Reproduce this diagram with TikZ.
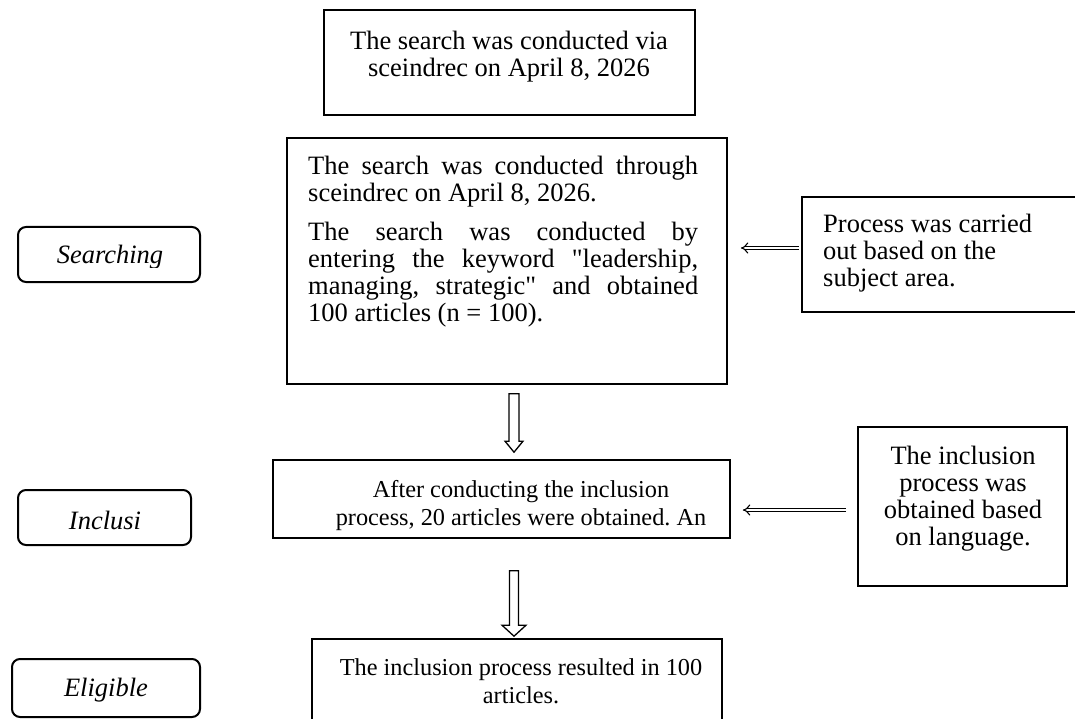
\documentclass[tikz,border=0pt]{standalone}
\usepackage{fontspec}
\setmainfont{Liberation Serif}
\usetikzlibrary{arrows.meta,calc}
\frenchspacing
\newcommand\hollowdown[5]{%
  \draw[hollow] let \p1=(#1), \p2=(#2) in
    (\x1-#3pt,\y1) -- (\x1+#3pt,\y1) -- (\x1+#3pt,\y2+#5pt) -- (\x1+#4pt,\y2+#5pt)
    -- (\x1,\y2) -- (\x1-#4pt,\y2+#5pt) -- (\x1-#3pt,\y2+#5pt) -- cycle;}
\newcommand\sq{\XeTeXglyph\XeTeXcharglyph"22\relax}
\begin{document}
\begin{tikzpicture}[x=1pt,y=-1pt,
  box/.style={draw, line width=1.6pt, inner sep=0, rectangle},
  lbl/.style={draw, line width=2pt, rounded corners=8pt, inner sep=0},
  txt/.style={inner sep=0, font=\fontsize{26.5}{27}\selectfont},
  stxt/.style={inner sep=0, font=\fontsize{24.3}{28.5}\selectfont},
  ltxt/.style={inner sep=0, font=\fontsize{26.5}{27}\selectfont\itshape},
  dbl/.style={double, double distance=2.6pt, line width=1.1pt, -{Implies[length=5pt]}},
  hollow/.style={draw, line width=1.3pt, line join=miter, fill=white}
]
\useasboundingbox (0,0) rectangle (1075,719);

% boxes
\node[box, minimum width=371pt, minimum height=105pt] (top) at (509.5,62.5) {};
\node[box, minimum width=440pt, minimum height=246pt] (search) at (507,261) {};
\node[box, minimum width=283pt, minimum height=115pt] (proc) at (943.5,254.5) {};
\node[box, minimum width=457pt, minimum height=78pt] (incl) at (501.5,499) {};
\node[box, minimum width=209pt, minimum height=159pt] (rbox) at (962.5,506.5) {};
\node[box, minimum width=410pt, minimum height=121pt] (elig) at (517,699.5) {};

% label boxes
\node[lbl, minimum width=182pt, minimum height=55pt] (lsearch) at (109,254.5) {};
\node[lbl, minimum width=173pt, minimum height=55pt] (lincl) at (104.5,517.5) {};
\node[lbl, minimum width=188pt, minimum height=58pt] (lelig) at (106,688) {};

% texts
\node[txt, anchor=north, align=center] (ttop) at (509,31)
  {The search was conducted via\\sceindrec on April 8, 2026};
\node[txt, anchor=north west, text width=390pt, align=justify] (tsearch) at (308,156)
  {The search was conducted through\linebreak sceindrec on April 8, 2026.\par\vspace{12pt}%
   The search was conducted by\linebreak entering the keyword \sq leadership,\linebreak
   managing, strategic\sq\ and obtained\linebreak 100 articles (n = 100).};
\node[txt, anchor=north west, align=left] (tproc) at (823,214)
  {Process was carried\\out based on the\\subject area.};
\node[stxt, anchor=north, align=center] (tincl) at (521,480)
  {After conducting the inclusion\\process, 20 articles were obtained. An};
\node[txt, anchor=north, align=center] (trbox) at (963,446)
  {The inclusion\\process was\\obtained based\\on language.};
\node[stxt, anchor=north, align=center] (telig) at (521,658)
  {The inclusion process resulted in 100\\articles.};

\begin{scope}
  \clip (18,227) rectangle (200,267);
  \node[ltxt] (tlsearch) at (110,257) {Searching};
\end{scope}
\node[ltxt] (tlincl) at (105,520) {Inclusi};
\node[ltxt] (tlelig) at (106,690) {Eligible};

% horizontal double arrows
\coordinate (a1) at ($(proc.west)+(-2,-6.5)$);
\draw[dbl, shorten >=13pt] (a1) -- (a1 -| search.east);
\coordinate (a2) at ($(rbox.west)+(-11,3.5)$);
\draw[dbl, shorten >=12pt] (a2) -- (a2 -| incl.east);

% vertical hollow arrows
\coordinate (v1s) at ($(search.south)+(7,9)$);
\coordinate (v1e) at (v1s |- incl.north);
\coordinate (v1t) at ($(v1e)+(0,-7)$);
\hollowdown{v1s}{v1t}{5}{9}{11}
\coordinate (v2s) at ($(incl.south)+(12.5,32)$);
\coordinate (v2e) at (v2s |- elig.north);
\coordinate (v2t) at ($(v2e)+(0,-2)$);
\hollowdown{v2s}{v2t}{4.5}{12}{11}
\end{tikzpicture}
\end{document}
